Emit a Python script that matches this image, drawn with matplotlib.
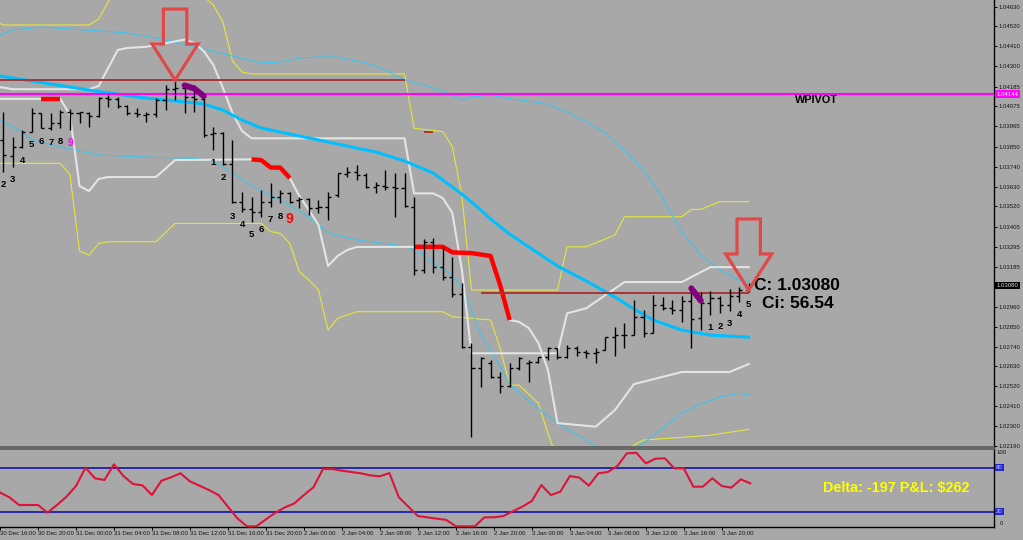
import numpy as np
import matplotlib
matplotlib.use("Agg")
import matplotlib.pyplot as plt
from matplotlib.patches import Polygon
from matplotlib.transforms import IdentityTransform, blended_transform_factory

plt.rcParams['font.family'] = ['Liberation Sans', 'DejaVu Sans']

# ---------------- data ----------------
first_bar = -3
opens = [1.03889, 1.03801, 1.03851, 1.03935, 1.04037, 1.03957, 1.03981, 1.04046, 1.04037, 1.04040,
         1.04022, 1.04121, 1.04115, 1.04078, 1.04037, 1.04028, 1.04033, 1.04111, 1.04171, 1.04176,
         1.04129, 1.04115, 1.03922, 1.03926, 1.03754, 1.03546, 1.03503, 1.03490, 1.03546, 1.03570,
         1.03592, 1.03555, 1.03559, 1.03509, 1.03518, 1.03583, 1.03700, 1.03712, 1.03694, 1.03629,
         1.03633, 1.03629, 1.03620, 1.03518, 1.03166, 1.03321, 1.03181, 1.03129, 1.03032, 1.02739,
         1.02619, 1.02649, 1.02573, 1.02523, 1.02619, 1.02649, 1.02656, 1.02680, 1.02730, 1.02680,
         1.02734, 1.02712, 1.02703, 1.02721, 1.02792, 1.02804, 1.02804, 1.02906, 1.02817, 1.02971,
         1.02953, 1.02943, 1.02995, 1.02899, 1.02984, 1.03009, 1.02971, 1.03021, 1.03055]
highs = [1.04046, 1.03905, 1.03944, 1.04065, 1.04040, 1.04039, 1.04055, 1.04061, 1.04046, 1.04046,
         1.04129, 1.04139, 1.04129, 1.04083, 1.04065, 1.04046, 1.04121, 1.04194, 1.04222, 1.04194,
         1.04194, 1.04139, 1.03963, 1.03935, 1.03889, 1.03601, 1.03573, 1.03611, 1.03648, 1.03611,
         1.03601, 1.03573, 1.03564, 1.03555, 1.03601, 1.03704, 1.03740, 1.03750, 1.03704, 1.03657,
         1.03722, 1.03707, 1.03704, 1.03570, 1.03337, 1.03342, 1.03295, 1.03240, 1.03092, 1.02758,
         1.02684, 1.02665, 1.02600, 1.02647, 1.02684, 1.02665, 1.02684, 1.02739, 1.02734, 1.02749,
         1.02743, 1.02721, 1.02730, 1.02795, 1.02847, 1.02870, 1.02999, 1.02943, 1.03027, 1.03014,
         1.02999, 1.03021, 1.03064, 1.03045, 1.03051, 1.03021, 1.03059, 1.03073, 1.03092]
lows = [1.03712, 1.03739, 1.03844, 1.03935, 1.03954, 1.03944, 1.03954, 1.03944, 1.03981, 1.03963,
        1.04018, 1.04074, 1.04065, 1.04028, 1.04018, 1.03990, 1.04018, 1.04055, 1.04111, 1.04040,
        1.04046, 1.03907, 1.03833, 1.03750, 1.03537, 1.03490, 1.03434, 1.03462, 1.03518, 1.03537,
        1.03537, 1.03509, 1.03472, 1.03481, 1.03444, 1.03573, 1.03685, 1.03666, 1.03620, 1.03596,
        1.03611, 1.03462, 1.03518, 1.03138, 1.03148, 1.03148, 1.03110, 1.03017, 1.02730, 1.02239,
        1.02517, 1.02564, 1.02480, 1.02517, 1.02610, 1.02545, 1.02647, 1.02665, 1.02669, 1.02675,
        1.02688, 1.02675, 1.02647, 1.02721, 1.02688, 1.02730, 1.02804, 1.02792, 1.02814, 1.02943,
        1.02921, 1.02878, 1.02730, 1.02832, 1.02916, 1.02925, 1.02940, 1.02990, 1.03045]
closes = [1.03805, 1.03851, 1.03935, 1.04037, 1.03957, 1.03981, 1.04046, 1.04037, 1.04046, 1.04022,
          1.04121, 1.04115, 1.04078, 1.04037, 1.04033, 1.04033, 1.04111, 1.04171, 1.04176, 1.04129,
          1.04115, 1.03916, 1.03926, 1.03754, 1.03546, 1.03503, 1.03490, 1.03546, 1.03570, 1.03592,
          1.03546, 1.03559, 1.03509, 1.03518, 1.03573, 1.03704, 1.03712, 1.03694, 1.03629, 1.03638,
          1.03629, 1.03620, 1.03522, 1.03166, 1.03321, 1.03181, 1.03129, 1.03032, 1.02739, 1.02619,
          1.02675, 1.02571, 1.02523, 1.02619, 1.02675, 1.02656, 1.02680, 1.02730, 1.02680, 1.02734,
          1.02712, 1.02703, 1.02712, 1.02792, 1.02804, 1.02804, 1.02906, 1.02817, 1.02971, 1.02953,
          1.02943, 1.02995, 1.02893, 1.02984, 1.03009, 1.02971, 1.03021, 1.03055, 1.03080]

tick_idx = list(range(-4, 73, 4))
tick_labels = ["30 Dec 16:00", "30 Dec 20:00", "31 Dec 00:00", "31 Dec 04:00", "31 Dec 08:00",
               "31 Dec 12:00", "31 Dec 16:00", "31 Dec 20:00", "2 Jan 00:00", "2 Jan 04:00",
               "2 Jan 08:00", "2 Jan 12:00", "2 Jan 16:00", "2 Jan 20:00", "3 Jan 00:00",
               "3 Jan 04:00", "3 Jan 08:00", "3 Jan 12:00", "3 Jan 16:00", "3 Jan 20:00"]

price_ticks = [1.04630, 1.04520, 1.04410, 1.04300, 1.04185, 1.04075, 1.03965, 1.03850, 1.03740,
               1.03630, 1.03520, 1.03405, 1.03295, 1.03185, 1.02960, 1.02850, 1.02740, 1.02630,
               1.02520, 1.02410, 1.02300, 1.02190]

# moving average (thick cyan)
ma_idx = [-4, 2, 7, 11, 14, 18, 20, 22, 24, 27, 30, 33, 36, 39, 42, 45, 47, 48, 50, 52, 55, 58,
          61, 63, 65, 68, 71, 75]
ma_val = [1.04250, 1.04200, 1.04158, 1.04128, 1.04111, 1.04089, 1.04055, 1.04000, 1.03955, 1.03922,
          1.03889, 1.03855, 1.03822, 1.03772, 1.03705, 1.03588, 1.03499, 1.03449, 1.03366, 1.03294,
          1.03188, 1.03105, 1.03016, 1.02949, 1.02888, 1.02832, 1.02804, 1.02793]

# thin cyan bands
bbu_idx = [-4, -2, 1, 4, 10, 13, 15, 17, 21, 24, 26, 28, 30, 32, 35, 37, 39, 41, 43, 45, 46, 48,
           50, 52, 54, 56, 58, 60, 62, 64, 66, 68, 70, 72, 74, 75]
bbu_val = [1.04456, 1.04500, 1.04517, 1.04506, 1.04484, 1.04456, 1.04433, 1.04406, 1.04356, 1.04317,
           1.04322, 1.04345, 1.04350, 1.04350, 1.04317, 1.04278, 1.04222, 1.04194, 1.04161, 1.04111,
           1.04128, 1.04139, 1.04117, 1.04105, 1.04089, 1.04044, 1.03989, 1.03928, 1.03833, 1.03722,
           1.03566, 1.03377, 1.03249, 1.03166, 1.03110, 1.03099]
bbl_idx = [-4, -3, -1, 0, 3, 7, 12, 17, 19, 21, 23, 26, 29, 31, 34, 39, 41, 42, 44, 45, 46, 47,
           48, 49, 50, 52, 54, 56, 58, 60, 62, 64, 66, 68, 70, 72, 74, 75]
bbl_val = [1.04028, 1.03990, 1.03933, 1.03889, 1.03850, 1.03805, 1.03794, 1.03786, 1.03772, 1.03705,
           1.03633, 1.03555, 1.03460, 1.03372, 1.03333, 1.03299, 1.03249, 1.03205, 1.03138, 1.03066,
           1.02943, 1.02804, 1.02721, 1.02627, 1.02532, 1.02437, 1.02354, 1.02282, 1.02221, 1.02154,
           1.02148, 1.02204, 1.02287, 1.02371, 1.02421, 1.02460, 1.02482, 1.02471]

# light grey channel
wu_idx = [-4, -2, 6, 7, 8, 9, 10, 12, 16, 17, 18, 19, 20, 21, 22, 23, 39, 40, 42, 43, 44, 45, 46,
          55, 56, 58, 62, 68, 71, 75]
wu_val = [1.04189, 1.04171, 1.04171, 1.04189, 1.04289, 1.04389, 1.04400, 1.04407, 1.04447, 1.04428,
          1.04383, 1.04306, 1.04178, 1.04039, 1.03939, 1.03898, 1.03898, 1.03592, 1.03592, 1.03566,
          1.03483, 1.03166, 1.02703, 1.02703, 1.02925, 1.02953, 1.03099, 1.03099, 1.03182, 1.03182]
wl_idx = [-4, 3, 4, 5, 6, 7, 8, 13, 15, 23, 24, 25, 26, 27, 28, 29, 30, 31, 32, 33, 34, 43, 44, 46,
          48, 49, 50, 51, 52, 53, 54, 55, 59, 61, 63, 64, 68, 73, 75]
wl_val = [1.04117, 1.04117, 1.04028, 1.03633, 1.03605, 1.03672, 1.03683, 1.03683, 1.03777, 1.03781,
          1.03777, 1.03736, 1.03735, 1.03677, 1.03577, 1.03499, 1.03416, 1.03188, 1.03244, 1.03277,
          1.03294, 1.03295, 1.03264, 1.03260, 1.03244, 1.03082, 1.02888, 1.02877, 1.02843, 1.02760,
          1.02610, 1.02315, 1.02295, 1.02387, 1.02532, 1.02545, 1.02599, 1.02599, 1.02643]

# yellow channel
yu_idx = [-4, -3, 6, 7, 8, 9, 17, 18, 19, 20, 21, 22, 23, 39, 40, 43, 44, 45, 46, 55, 56, 58, 61,
          62, 68, 69, 70, 72, 75]
yu_val = [1.04556, 1.04528, 1.04528, 1.04561, 1.04656, 1.04734, 1.04734, 1.04684, 1.04639, 1.04545,
          1.04328, 1.04267, 1.04256, 1.04256, 1.03954, 1.03935, 1.03851, 1.03577, 1.03055, 1.03055,
          1.03295, 1.03295, 1.03360, 1.03462, 1.03462, 1.03503, 1.03503, 1.03546, 1.03546]
yl_idx = [-4, 3, 4, 5, 6, 7, 8, 13, 15, 24, 25, 26, 27, 28, 29, 30, 31, 32, 34, 43, 44, 48, 49, 50,
          51, 53, 54, 55, 62, 63, 64, 69, 71, 75]
yl_val = [1.03759, 1.03759, 1.03697, 1.03272, 1.03249, 1.03314, 1.03323, 1.03323, 1.03425, 1.03425,
          1.03379, 1.03370, 1.03314, 1.03156, 1.03110, 1.03055, 1.02832, 1.02897, 1.02934, 1.02934,
          1.02906, 1.02888, 1.02732, 1.02526, 1.02526, 1.02425, 1.02258, 1.02109, 1.02109, 1.02193,
          1.02221, 1.02239, 1.02248, 1.02280]

# highlighted (red) stretches of the lower grey line
red1_idx, red1_val = [1, 3], [1.04117, 1.04117]
red2_idx, red2_val = [23, 24, 25, 26, 27], [1.03781, 1.03777, 1.03736, 1.03735, 1.03677]
red3_idx = [40, 43, 44, 46, 48, 49, 50]
red3_val = [1.03295, 1.03295, 1.03264, 1.03260, 1.03244, 1.03082, 1.02888]

# purple marks
pur1_idx, pur1_val = [16, 17, 18], [1.04192, 1.04175, 1.04133]
pur2_idx, pur2_val = [69, 70], [1.03064, 1.02995]

# horizontal levels
wpivot = 1.04144
hi_level, hi_from, hi_to = 1.04222, -4, 39
lo_level, lo_from, lo_to = 1.03040, 47, 75
dash_level, dash_from, dash_to = 1.03931, 41, 42

# counts under bars
td_bar = [-3, -2, -1, 0, 1, 2, 3, 4, 19, 20, 21, 22, 23, 24, 25, 26, 27, 71, 72, 73, 74, 75]
td_text = ["2", "3", "4", "5", "6", "7", "8", "9", "1", "2", "3", "4", "5", "6", "7", "8", "9",
           "1", "2", "3", "4", "5"]

arrow_idx = [15, 75]
arrow_price = [1.04222, 1.03055]

ci_value = 56.54
delta_text = "Delta: -197 P&L: $262"

stoch_idx = list(range(-4, 76))
stoch = [46, 39.4, 29.0, 29.0, 29.0, 18.5, 29.0, 40.3, 54.8, 79.8, 65.3, 63.0, 84.3, 68.4, 57.6,
         55.7, 42.6, 62.1, 66.6, 72.1, 61.2, 55.3, 49.4, 42.6, 26.7, 10.8, 0, 0, 9.5, 18.5, 25.8,
         31.2, 42.6, 53.0, 77.9, 77.9, 75.7, 73.9, 72.1, 69.3, 68.0, 72.5, 39.4, 26.7, 14.0, 12.2,
         10.4, 8.6, 0, 0, 0, 12.2, 12.2, 14.0, 20.4, 26.7, 34.4, 56.2, 42.6, 47.1, 68.4, 66.2, 55.3,
         72.1, 73.9, 82.0, 99.3, 100, 85.7, 92.0, 92.5, 78.9, 78.9, 53.9, 53.9, 65.3, 54.8, 52.6,
         63.9, 58.5]
stoch_levels = [80, 20]

# ---------------- styling ----------------
BG = '#A8A8A8'
YELLOW = '#E6E63A'
THIN_CYAN = '#3FC3EC'
MA_CYAN = '#00BFFF'
LGREY = '#E4E4E4'
DRED = '#A83434'
ARROW_RED = '#E24848'

fig = plt.figure(figsize=(10.23, 5.40), dpi=100, facecolor=BG)
ax = fig.add_axes([0, 93 / 540, 994 / 1023, 447 / 540], facecolor=BG)
ax2 = fig.add_axes([0, 13 / 540, 994 / 1023, 78 / 540], facecolor=BG)

XMIN, XMAX = -3.316, 100.66
ax.set_xlim(XMIN, XMAX)
ax2.set_xlim(XMIN, XMAX)
ax.set_ylim(1.02182, 1.04667)
ax2.set_ylim(-0.95, 105.2)

for a in (ax, ax2):
    a.spines['left'].set_visible(False)
    a.spines['right'].set_color('black')
    a.spines['right'].set_linewidth(1.0)
ax.spines['top'].set_visible(False)
ax.spines['bottom'].set_color('#5C5C5C')
ax.spines['bottom'].set_linewidth(1.2)
ax2.spines['top'].set_color('#5C5C5C')
ax2.spines['top'].set_linewidth(1.2)
ax2.spines['bottom'].set_color('black')
ax2.spines['bottom'].set_linewidth(1.0)

ax.set_xticks([])
ax.yaxis.tick_right()
ax.set_yticks(price_ticks)
ax.set_yticklabels([f"{v:.5f}" for v in price_ticks])
ax.tick_params(axis='y', right=True, left=False, length=2.2, width=0.7, pad=1.0,
               labelsize=4.3, labelcolor='#151515')

ax2.set_yticks([])
ax2.set_xticks(tick_idx)
ax2.set_xticklabels(tick_labels, fontsize=4.3, ha='left', color='#151515')
ax2.tick_params(axis='x', length=2.0, width=0.7, pad=1.2)

# channels / bands
ax.plot(yu_idx, yu_val, color=YELLOW, lw=0.8, zorder=2)
ax.plot(yl_idx, yl_val, color=YELLOW, lw=0.8, zorder=2)
ax.plot(bbu_idx, bbu_val, color=THIN_CYAN, lw=0.8, zorder=2)
ax.plot(bbl_idx, bbl_val, color=THIN_CYAN, lw=0.8, zorder=2)
ax.plot(wu_idx, wu_val, color=LGREY, lw=1.5, zorder=2.2)
ax.plot(wl_idx, wl_val, color=LGREY, lw=1.5, zorder=2.2)
ax.plot(ma_idx, ma_val, color=MA_CYAN, lw=2.2, zorder=2.5)
for xi, yv in ((red1_idx, red1_val), (red2_idx, red2_val), (red3_idx, red3_val)):
    ax.plot(xi, yv, color='#FF0000', lw=3.2, solid_capstyle='butt', solid_joinstyle='round', zorder=3)

# levels
ax.axhline(wpivot, color='#FF00FF', lw=1.5, zorder=3.4)
ax.hlines(hi_level, hi_from, hi_to, color=DRED, lw=1.4, zorder=3.4)
ax.hlines(lo_level, lo_from, lo_to, color=DRED, lw=1.4, zorder=3.4)
ax.hlines(dash_level, dash_from, dash_to, color=DRED, lw=1.4, zorder=3.4)

# bars
bar_idx = np.arange(first_bar, first_bar + len(opens))
ax.vlines(bar_idx, lows, highs, color='black', lw=1.0, zorder=4)
ax.hlines(opens, bar_idx - 0.32, bar_idx, color='black', lw=1.0, zorder=4)
ax.hlines(closes, bar_idx, bar_idx + 0.32, color='black', lw=1.0, zorder=4)

# purple marks
for xi, yv in ((pur1_idx, pur1_val), (pur2_idx, pur2_val)):
    ax.plot(xi, yv, color='#800080', lw=4.3, solid_capstyle='round', zorder=5)

# count labels
low_by_bar = dict(zip(bar_idx.tolist(), lows))
for k, (b, t) in enumerate(zip(td_bar, td_text)):
    if k == 7:
        col, fs = '#FF00FF', 7.2
    elif k == 16:
        col, fs = '#FF0000', 10
    else:
        col, fs = 'black', 6.8
    dy = -11 if k == 16 else -9.3
    ax.annotate(t, xy=(b, low_by_bar[b]), xytext=(0, dy), textcoords='offset points',
                ha='center', va='center', fontsize=fs, fontweight='bold', color=col, zorder=7)

# arrows (shape in pixels relative to the tip)
shape = np.array([[0, 0], [-23, 36], [-11.7, 36], [-11.7, 71], [11.7, 71], [11.7, 36], [23, 36]])
for ti, tp in zip(arrow_idx, arrow_price):
    tx, ty = ax.transData.transform((ti, tp))
    poly = Polygon(shape + np.array([tx, ty]), closed=True, fill=False, edgecolor=ARROW_RED,
                   lw=2.3, joinstyle='miter', transform=IdentityTransform(), zorder=8)
    fig.add_artist(poly)

# texts
last_i = int(bar_idx[-1])
ax.annotate(f"C: {closes[-1]:.5f}", xy=(last_i, closes[-1]), xytext=(3.6, 0),
            textcoords='offset points', ha='left', va='center', fontsize=12.5,
            fontweight='bold', color='black', zorder=9)
ax.annotate(f"Ci: {ci_value:.2f}", xy=(last_i, closes[-1]), xytext=(9.6, -12.8),
            textcoords='offset points', ha='left', va='center', fontsize=12.5,
            fontweight='bold', color='black', zorder=9)
ax.annotate("WPIVOT", xy=(79.84, wpivot), xytext=(0, -4.3), textcoords='offset points',
            ha='left', va='center', fontsize=7.8, fontweight='bold', color='black', zorder=9)
fig.text(822.7 / 1023, 1 - 488.3 / 540, delta_text, color='#FFFF00', fontsize=10.4,
         fontweight='bold', ha='left', va='center')

# special price boxes
tr = blended_transform_factory(ax.transAxes, ax.transData)
ax.text(1.0025, wpivot, f"{wpivot:.5f}", transform=tr, fontsize=4.3, color='white',
        ha='left', va='center', clip_on=False,
        bbox=dict(boxstyle='square,pad=0.2', fc='#FF00FF', ec='none'))
ax.text(1.0025, closes[-1], f"{closes[-1]:.5f}", transform=tr, fontsize=4.3, color='#DDDDDD',
        ha='left', va='center', clip_on=False,
        bbox=dict(boxstyle='square,pad=0.2', fc='black', ec='none'))

# oscillator
ax2.plot(stoch_idx, stoch, color='#DC143C', lw=1.5, zorder=3)
for lv in stoch_levels:
    ax2.axhline(lv, color='#1E1EA8', lw=1.3, zorder=2)
tr2 = blended_transform_factory(ax2.transAxes, ax2.transData)
ax2.text(1.003, 100, "100", transform=tr2, fontsize=4.3, color='#151515', ha='left',
         va='center', clip_on=False)
ax2.text(1.006, 0.3, "0", transform=tr2, fontsize=4.3, color='#151515', ha='left',
         va='bottom', clip_on=False)
for lv in stoch_levels:
    ax2.text(1.002, lv, f"{lv}", transform=tr2, fontsize=4.3, color='#C8C8FF', ha='left',
             va='center', clip_on=False,
             bbox=dict(boxstyle='square,pad=0.2', fc='#2323D8', ec='none'))

fig.savefig("out.png", dpi=100, facecolor=BG)
